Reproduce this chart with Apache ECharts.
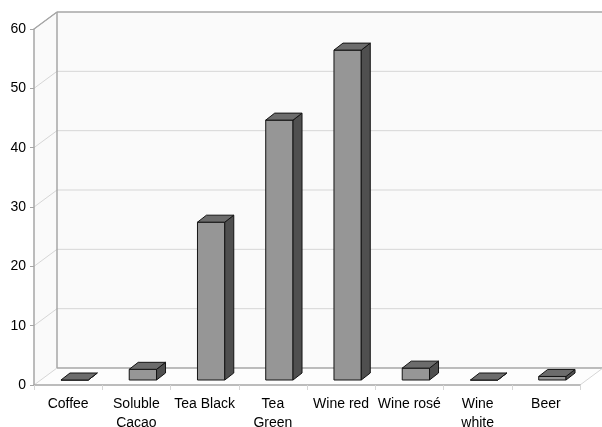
<!DOCTYPE html>
<html>
<head>
<meta charset="utf-8">
<script src="https://cdn.jsdelivr.net/npm/echarts@6/dist/echarts.min.js"></script>
<style>
  html, body { margin: 0; padding: 0; background: #ffffff; }
  #chart { width: 602px; height: 427px; }
</style>
</head>
<body>
<div id="chart"></div>
<script>
// Beverage categories and their measured values
const categories = ['Coffee', 'Soluble\nCacao', 'Tea Black', 'Tea\nGreen', 'Wine red', 'Wine rosé', 'Wine\nwhite', 'Beer'];
const values = [0, 1.8, 26.6, 43.8, 55.6, 2.0, 0, 0.6];
const yTicks = [0, 10, 20, 30, 40, 50, 60];

// Pseudo-3D geometry (pixels)
const WALL_DX = 23, WALL_DY = -17;   // depth of the floor / back wall
const BAR_OX = 6.5, BAR_OY = -5;     // front face of a bar, pushed into the floor
const BAR_DX = 9, BAR_DY = -7;       // bar depth
const BAR_WIDTH_RATIO = 0.4;

const WALL_FILL = '#fafafa';
const EDGE = '#a6a6a6';
const GRID = '#d6d6d6';

const chart = echarts.init(document.getElementById('chart'), null, { renderer: 'canvas' });

function renderWalls(params, api) {
  const cs = params.coordSys;
  const xl = cs.x, xr = cs.x + cs.width;
  const y0 = api.coord([0, yTicks[0]])[1];
  const yTop = api.coord([0, yTicks[yTicks.length - 1]])[1];
  const children = [];
  // back wall
  children.push({ type: 'polygon', shape: { points: [
    [xl + WALL_DX, yTop + WALL_DY], [xr + WALL_DX, yTop + WALL_DY],
    [xr + WALL_DX, y0 + WALL_DY], [xl + WALL_DX, y0 + WALL_DY]] },
    style: { fill: WALL_FILL } });
  // left wall
  children.push({ type: 'polygon', shape: { points: [
    [xl, y0], [xl, yTop], [xl + WALL_DX, yTop + WALL_DY], [xl + WALL_DX, y0 + WALL_DY]] },
    style: { fill: WALL_FILL } });
  // floor
  children.push({ type: 'polygon', shape: { points: [
    [xl, y0], [xr, y0], [xr + WALL_DX, y0 + WALL_DY], [xl + WALL_DX, y0 + WALL_DY]] },
    style: { fill: '#fdfdfd' } });
  // gridlines on the back and left walls
  yTicks.forEach(function (v, k) {
    const y = api.coord([0, v])[1];
    const edge = (k === 0 || k === yTicks.length - 1);
    const color = edge ? EDGE : GRID;
    const lw = edge ? 1.5 : 1;
    children.push({ type: 'line', shape: { x1: xl + WALL_DX, y1: y + WALL_DY, x2: xr + WALL_DX + 5, y2: y + WALL_DY },
      style: { stroke: color, lineWidth: lw } });
    children.push({ type: 'line', shape: { x1: xl, y1: y, x2: xl + WALL_DX, y2: y + WALL_DY },
      style: { stroke: edge && k !== 0 ? EDGE : GRID, lineWidth: 1 } });
  });
  // back-left vertical edge
  children.push({ type: 'line', shape: { x1: xl + WALL_DX, y1: yTop + WALL_DY, x2: xl + WALL_DX, y2: y0 + WALL_DY },
    style: { stroke: EDGE, lineWidth: 1.5 } });
  // floor right edge
  children.push({ type: 'line', shape: { x1: xr, y1: y0, x2: xr + WALL_DX, y2: y0 + WALL_DY },
    style: { stroke: GRID, lineWidth: 1 } });
  // left wall top edge
  children.push({ type: 'line', shape: { x1: xl, y1: yTop, x2: xl + WALL_DX, y2: yTop + WALL_DY },
    style: { stroke: EDGE, lineWidth: 1.2 } });
  return { type: 'group', children: children };
}

function renderBar(params, api) {
  const idx = api.value(0);
  const base = api.coord([idx, 0]);
  const top = api.coord([idx, api.value(1)]);
  const bw = api.size([1, 0])[0];
  const w = bw * BAR_WIDTH_RATIO;
  const cx = base[0] + BAR_OX;
  const x0 = cx - w / 2, x1 = cx + w / 2;
  const yb = base[1] + BAR_OY, yt = top[1] + BAR_OY;
  const stroke = { stroke: '#141414', lineWidth: 1, lineJoin: 'round' };
  return {
    type: 'group',
    children: [
      { type: 'polygon', shape: { points: [[x0, yb], [x1, yb], [x1, yt], [x0, yt]] },
        style: Object.assign({ fill: '#969696' }, stroke) },
      { type: 'polygon', shape: { points: [[x1, yb], [x1 + BAR_DX, yb + BAR_DY], [x1 + BAR_DX, yt + BAR_DY], [x1, yt]] },
        style: Object.assign({ fill: '#4f4f4f' }, stroke) },
      { type: 'polygon', shape: { points: [[x0, yt], [x1, yt], [x1 + BAR_DX, yt + BAR_DY], [x0 + BAR_DX, yt + BAR_DY]] },
        style: Object.assign({ fill: '#6c6c6c' }, stroke) }
    ]
  };
}

const font = { fontFamily: 'Liberation Sans, Arial, sans-serif', fontSize: 14, color: '#000000' };

chart.setOption({
  backgroundColor: '#ffffff',
  animation: false,
  grid: { left: 34, right: 22, top: 29, bottom: 42, containLabel: false, outerBoundsMode: 'none' },
  xAxis: {
    type: 'category',
    data: categories,
    boundaryGap: true,
    z: 5,
    axisLine: { show: true, lineStyle: { color: EDGE, width: 1.5 } },
    axisTick: { show: true, alignWithLabel: false, length: 5, lineStyle: { color: GRID, width: 1 } },
    axisLabel: Object.assign({ interval: 0, margin: 10, lineHeight: 19 }, font),
    splitLine: { show: false }
  },
  yAxis: {
    type: 'value',
    min: 0,
    max: 60,
    interval: 10,
    z: 5,
    axisLine: { show: true, lineStyle: { color: EDGE, width: 1.5 } },
    axisTick: { show: true, length: 4, lineStyle: { color: EDGE, width: 1 } },
    axisLabel: Object.assign({ margin: 8 }, font),
    splitLine: { show: false }
  },
  series: [
    {
      type: 'custom',
      z: 1,
      silent: true,
      renderItem: renderWalls,
      data: [[0, 0]],
      encode: { x: 0, y: 1 }
    },
    {
      type: 'custom',
      z: 6,
      renderItem: renderBar,
      data: values.map(function (v, i) { return [i, v]; }),
      encode: { x: 0, y: 1 }
    }
  ]
});
</script>
</body>
</html>
